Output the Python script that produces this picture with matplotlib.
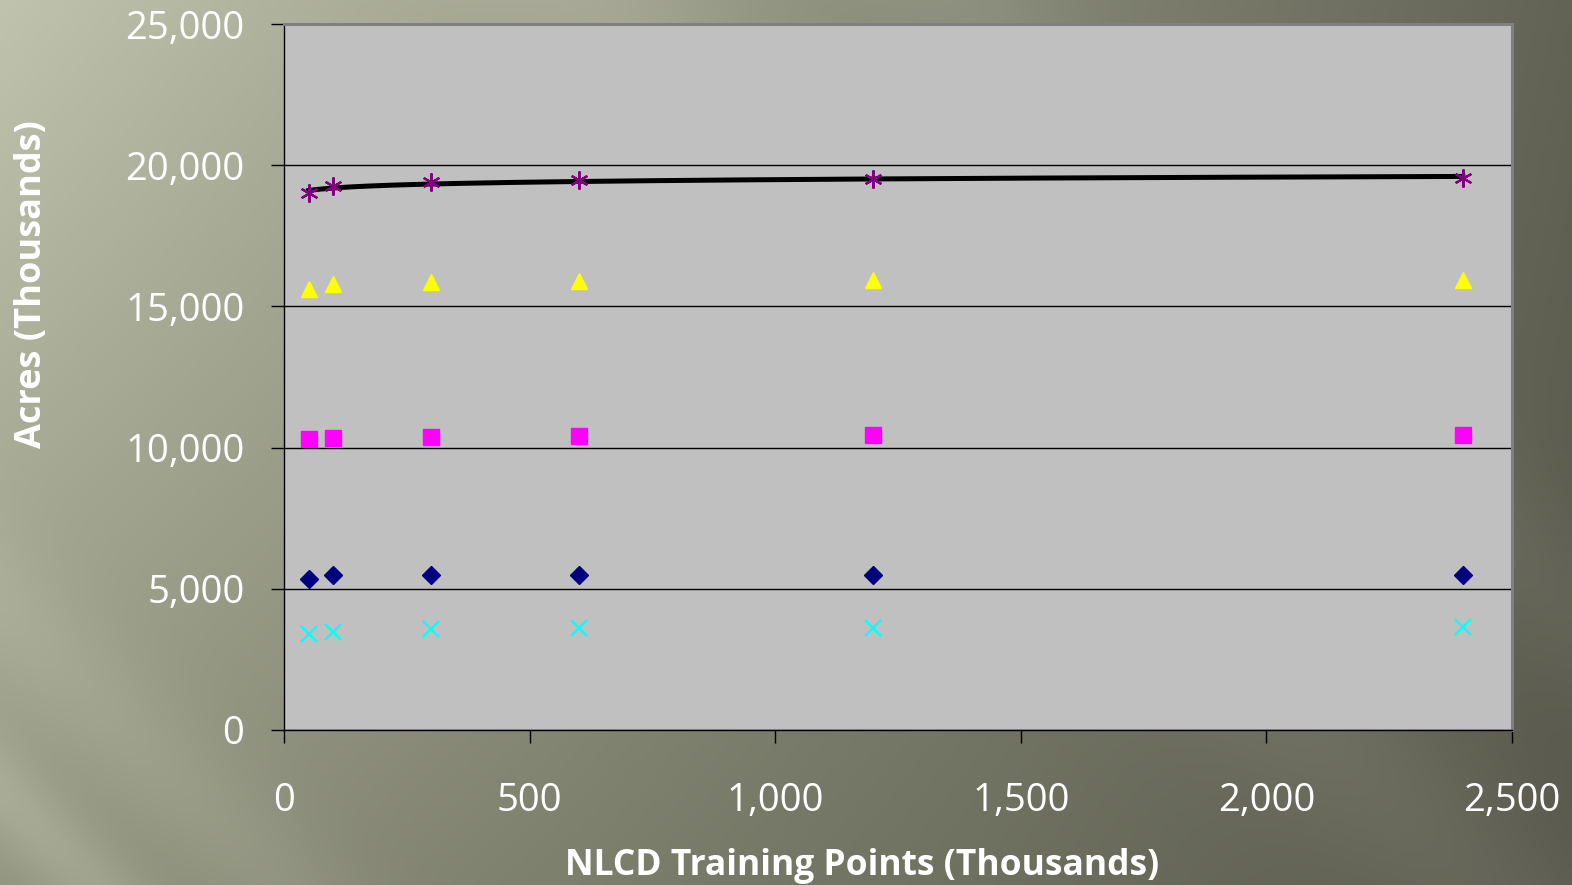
import numpy as np
from matplotlib import pyplot as plt
from matplotlib.ticker import FuncFormatter, MultipleLocator

# training points (thousands) and estimated acres (thousands) per class
train_pts = [50, 100, 300, 600, 1200, 2400]
acres_asterisk = [19000, 19255, 19400, 19470, 19500, 19540]
acres_triangle = [15600, 15780, 15850, 15890, 15920, 15920]
acres_square = [10320, 10350, 10390, 10425, 10460, 10460]
acres_diamond = [5355, 5500, 5500, 5500, 5500, 5500]
acres_cross = [3400, 3475, 3580, 3615, 3615, 3650]

W, H = 1572, 885


def background() -> np.ndarray:
    yy, xx = np.mgrid[0:H, 0:W].astype(float)
    u = xx / W
    v = yy / H
    top_left = np.array([192, 195, 173])
    top_right = np.array([98, 99, 85])
    bot_left = np.array([146, 149, 128])
    bot_right = np.array([88, 89, 76])
    img = (
        ((1 - u) * (1 - v))[..., None] * top_left
        + (u * (1 - v))[..., None] * top_right
        + ((1 - u) * v)[..., None] * bot_left
        + (u * v)[..., None] * bot_right
    )
    # soft diagonal light streaks
    d = (xx - yy) / np.sqrt(2)
    for off, amp, width in [(-560, 18, 40), (-430, 10, 60), (420, 10, 90), (680, 8, 70)]:
        img += amp * np.exp(-((d - off) / width) ** 2)[..., None]
    return np.clip(img, 0, 255) / 255


def main() -> None:
    plt.rcParams["font.family"] = ["Open Sans", "DejaVu Sans"]
    fig = plt.figure(figsize=(W / 100, H / 100), dpi=100)

    bg = fig.add_axes([0, 0, 1, 1], zorder=-10)
    bg.imshow(background(), aspect="auto", extent=(0, 1, 0, 1))
    bg.set_axis_off()

    left, right, top, bottom = 284, 1512, 24, 730
    ax = fig.add_axes([left / W, 1 - bottom / H, (right - left) / W, (bottom - top) / H])
    ax.set_facecolor("#c0c0c0")

    ax.plot(train_pts, acres_cross, linestyle="none", marker="x", color="#00ffff",
            markersize=11, markeredgewidth=1.6, zorder=3)
    ax.plot(train_pts, acres_diamond, linestyle="none", marker="D", color="#000080",
            markersize=9, zorder=3)
    ax.plot(train_pts, acres_square, linestyle="none", marker="s", color="#ff00ff",
            markersize=11, zorder=3)
    ax.plot(train_pts, acres_triangle, linestyle="none", marker="^", color="#ffff00",
            markersize=12, zorder=3)
    ax.plot(train_pts, acres_asterisk, linestyle="none", marker=(6, 2, 0), color="#800080",
            markersize=13, markeredgewidth=1.6, zorder=4)

    # logarithmic trend line through the top series
    coef = np.polyfit(np.log(train_pts), acres_asterisk, 1)
    xs = np.linspace(train_pts[0], train_pts[-1], 300)
    ax.plot(xs, np.polyval(coef, np.log(xs)), color="black", linewidth=3.6, zorder=3.5)

    ax.set_xlim(0, 2500)
    ax.set_ylim(0, 25000)
    ax.xaxis.set_major_locator(MultipleLocator(500))
    ax.yaxis.set_major_locator(MultipleLocator(5000))
    fmt = FuncFormatter(lambda v, _: f"{v:,.0f}")
    ax.xaxis.set_major_formatter(fmt)
    ax.yaxis.set_major_formatter(fmt)

    ax.grid(axis="y", color="black", linewidth=1.0, zorder=1)
    ax.set_axisbelow(True)
    for side in ("left", "bottom"):
        ax.spines[side].set_color("black")
        ax.spines[side].set_linewidth(1.0)
    for side in ("top", "right"):
        ax.spines[side].set_color("#808080")
        ax.spines[side].set_linewidth(2.2)

    ax.tick_params(direction="out", length=9.5, width=1.0, color="black",
                   labelcolor="white", labelsize=27.5)
    ax.tick_params(axis="y", pad=19)
    ax.tick_params(axis="x", pad=28)

    fig.text(862 / W, 1 - 866 / H, "NLCD Training Points (Thousands)", color="white",
             fontsize=25.5, fontweight="bold", ha="center", va="center")
    fig.text(32 / W, 1 - 284 / H, "Acres (Thousands)", color="white", rotation=90,
             fontsize=26, fontweight="bold", ha="center", va="center")

    fig.savefig("out.png", dpi=100)


if __name__ == "__main__":
    main()
